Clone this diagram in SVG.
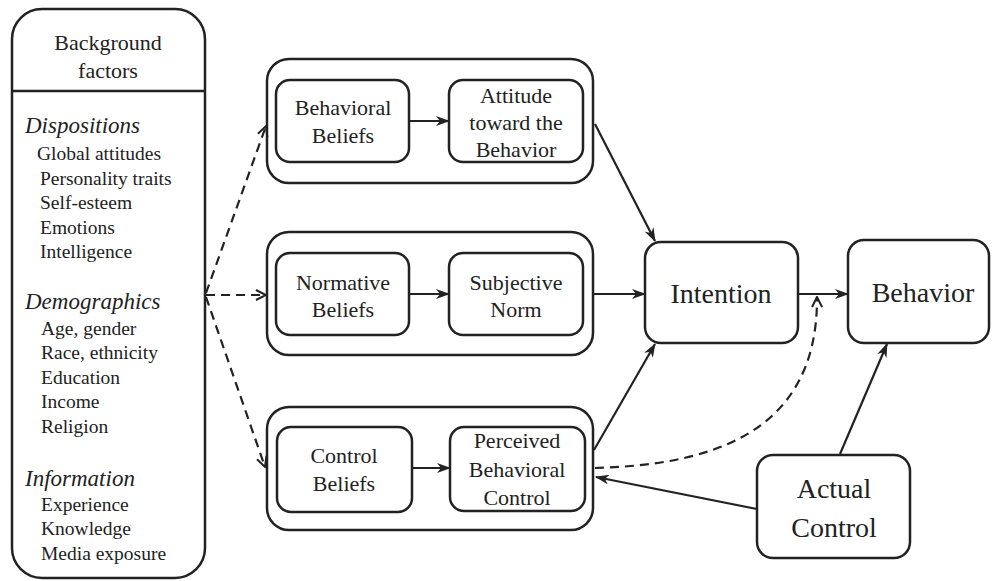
<svg xmlns="http://www.w3.org/2000/svg" width="992" height="581" viewBox="0 0 992 581">
<defs>
<marker id="ah" viewBox="0 0 14 10" refX="13" refY="5" markerWidth="14" markerHeight="10" markerUnits="userSpaceOnUse" orient="auto">
<path d="M0,0 L14,5 L0,10 L4,5 Z" fill="#222"/>
</marker>
<marker id="ao" viewBox="0 0 12 12" refX="11" refY="6" markerWidth="12" markerHeight="12" markerUnits="userSpaceOnUse" orient="auto">
<path d="M1,1 L11,6 L1,11" fill="none" stroke="#222" stroke-width="2"/>
</marker>
<style>
.box{fill:#fff;stroke:#222;stroke-width:2.5}
text{fill:#222}
.t{text-anchor:middle}
.s{font-size:22px}
.b{font-size:28px}
.h{font-style:italic;font-size:23px}
.i{font-size:19.5px}
.c{fill:none;stroke:#222;stroke-width:2.2}
.d{stroke-dasharray:9 6}
</style>
</defs>
<rect width="992" height="581" fill="#fff"/>
<g font-family="Liberation Serif, Times New Roman, serif">
<g id="background">
<rect class="box" x="12" y="9" width="193" height="569" rx="30"/>
<line x1="12" y1="91" x2="205" y2="91" stroke="#222" stroke-width="2.5"/>
<text class="t" x="108" y="50" font-size="22">Background</text>
<text class="t" x="108" y="78" font-size="22">factors</text>
<text class="h" x="25" y="133">Dispositions</text>
<text class="i" x="37" y="160">Global attitudes</text>
<text class="i" x="40" y="185">Personality traits</text>
<text class="i" x="40" y="209">Self-esteem</text>
<text class="i" x="40" y="234">Emotions</text>
<text class="i" x="40" y="258">Intelligence</text>
<text class="h" x="25" y="309">Demographics</text>
<text class="i" x="41" y="335">Age, gender</text>
<text class="i" x="41" y="359">Race, ethnicity</text>
<text class="i" x="41" y="384">Education</text>
<text class="i" x="41" y="408">Income</text>
<text class="i" x="41" y="433">Religion</text>
<text class="h" x="25" y="486">Information</text>
<text class="i" x="41" y="511">Experience</text>
<text class="i" x="41" y="535">Knowledge</text>
<text class="i" x="41" y="560">Media exposure</text>
</g>
<g id="attitude-group">
<rect class="box" x="267" y="59" width="326" height="124" rx="22"/>
</g>
<g id="behavioral-beliefs">
<rect class="box" x="276" y="80" width="133" height="82" rx="14"/>
<text class="t s" x="343" y="115">Behavioral</text>
<text class="t s" x="343" y="143">Beliefs</text>
</g>
<g id="attitude">
<rect class="box" x="449" y="80" width="134" height="82" rx="14"/>
<text class="t s" x="516" y="103">Attitude</text>
<text class="t s" x="516" y="130">toward the</text>
<text class="t s" x="516" y="157">Behavior</text>
</g>
<g id="norm-group">
<rect class="box" x="267" y="232" width="326" height="123" rx="22"/>
</g>
<g id="normative-beliefs">
<rect class="box" x="276" y="253" width="133" height="82" rx="14"/>
<text class="t s" x="343" y="290">Normative</text>
<text class="t s" x="343" y="317">Beliefs</text>
</g>
<g id="subjective-norm">
<rect class="box" x="449" y="253" width="134" height="82" rx="14"/>
<text class="t s" x="516" y="290">Subjective</text>
<text class="t s" x="516" y="317">Norm</text>
</g>
<g id="control-group">
<rect class="box" x="267" y="407" width="326" height="123" rx="22"/>
</g>
<g id="control-beliefs">
<rect class="box" x="277" y="427" width="135" height="85" rx="14"/>
<text class="t s" x="344" y="463">Control</text>
<text class="t s" x="344" y="491">Beliefs</text>
</g>
<g id="perceived-control">
<rect class="box" x="450" y="427" width="135" height="84" rx="14"/>
<text class="t s" x="517" y="448">Perceived</text>
<text class="t s" x="517" y="477">Behavioral</text>
<text class="t s" x="517" y="505">Control</text>
</g>
<g id="intention">
<rect class="box" x="645" y="242" width="153" height="101" rx="16"/>
<text class="t b" x="721" y="303">Intention</text>
</g>
<g id="behavior">
<rect class="box" x="848" y="240" width="141" height="103" rx="16"/>
<text class="t b" x="923" y="302">Behavior</text>
</g>
<g id="actual-control">
<rect class="box" x="757" y="455" width="153" height="103" rx="16"/>
<text class="t b" x="834" y="498">Actual</text>
<text class="t b" x="834" y="537">Control</text>
</g>
</g>
<g id="connectors">
<path class="c d" d="M206,293 L266,126" marker-end="url(#ao)"/>
<path class="c d" d="M206,295 L266,295" marker-end="url(#ao)"/>
<path class="c d" d="M206,297 L265,467" marker-end="url(#ao)"/>
<path class="c" d="M409,121 L449,121" marker-end="url(#ah)"/>
<path class="c" d="M409,294 L449,294" marker-end="url(#ah)"/>
<path class="c" d="M412,468 L450,468" marker-end="url(#ah)"/>
<path class="c" d="M595,124 L655,241" marker-end="url(#ah)"/>
<path class="c" d="M593,294 L645,294" marker-end="url(#ah)"/>
<path class="c" d="M594,450 L655,344" marker-end="url(#ah)"/>
<path class="c" d="M798,294 L848,294" marker-end="url(#ah)"/>
<path class="c d" d="M595,468 C700,465 818,440 817,297" marker-end="url(#ao)"/>
<path class="c" d="M757,509 L596,477" marker-end="url(#ah)"/>
<path class="c" d="M840,454 L887,344" marker-end="url(#ah)"/>
</g>
</svg>
